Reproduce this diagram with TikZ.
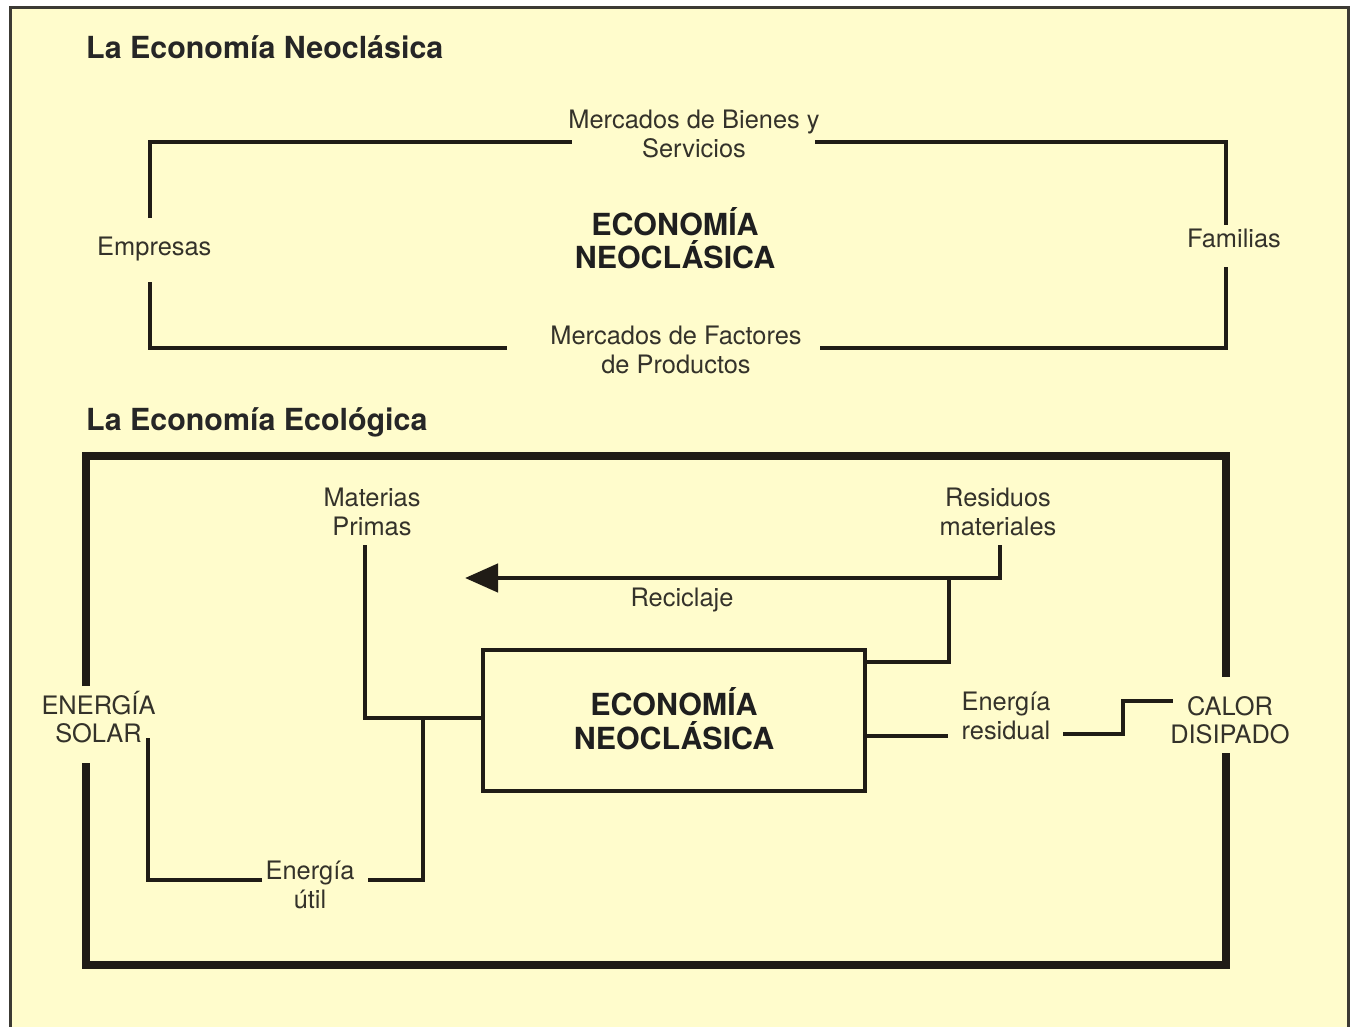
\documentclass[tikz,border=0pt]{standalone}
\usepackage{fontspec}
\setmainfont{TeX Gyre Heros}
\usetikzlibrary{arrows.meta}
\definecolor{bgyellow}{RGB}{255,252,204}
\definecolor{inkc}{RGB}{32,28,22}
\definecolor{txtc}{RGB}{52,50,42}
\definecolor{borderc}{RGB}{60,58,52}
\begin{document}
\begin{tikzpicture}[x=1pt,y=-1pt,
  lbl/.style={font=\fontsize{25.4}{28.5}\selectfont, text=txtc, inner sep=0pt, align=center},
  bigl/.style={font=\fontsize{30.4}{33.5}\selectfont\bfseries, text=black!88, inner sep=0pt, align=center},
  ttl/.style={font=\fontsize{30.4}{33.5}\selectfont\bfseries, text=black!85, inner sep=0pt},
  wire/.style={line width=4pt, draw=inkc, line join=miter},
  wirem/.style={line width=4.5pt, draw=inkc, line join=miter},
  frameline/.style={line width=8pt, draw=inkc, line join=miter},
  outerb/.style={line width=3pt, draw=borderc}]
\useasboundingbox (0,0) rectangle (1351,1027);
\fill[white] (0,0) rectangle (1351,1027);
\fill[bgyellow] (10,8) rectangle (1348,1030);
\coordinate (ob1) at (10,1030);
\coordinate (ob2) at (10,8);
\coordinate (ob3) at (1348,8);
\coordinate (ob4) at (1348,1030);
\draw[outerb] (ob1) -- (ob2) -- (ob3) -- (ob4);

% ---------- titles ----------
\node[ttl, anchor=base west] (t1) at (86,59) {La Economía Neoclásica};
\node[ttl, anchor=base west] (t2) at (86,430) {La Economía Ecológica};

% ---------- top diagram ----------
\node[lbl] (bienes) at (694,134) {Mercados de Bienes y\\Servicios};
\node[lbl] (factores) at (676,350) {Mercados de Factores\\de Productos};
\node[bigl] (eneo1) at (675,238) {ECONOMÍA\\NEOCLÁSICA};
\node[lbl, anchor=base west] (empresas) at (97,255) {Empresas};
\node[lbl, anchor=base west] (familias) at (1187,247) {Familias};

\coordinate (TL) at (150,142);
\coordinate (TR) at (1226,142);
\coordinate (BR) at (1226,348);
\coordinate (BL) at (150,348);
\coordinate (e1) at (150,218);
\coordinate (e2) at (150,282);
\coordinate (b1) at (572,142);
\coordinate (b2) at (815,142);
\coordinate (f1) at (1226,225);
\coordinate (f2) at (1226,267);
\coordinate (m1) at (820,348);
\coordinate (m2) at (507,348);
\draw[wire] (e1) -- (TL) -- (b1);
\draw[wire] (b2) -- (TR) -- (f1);
\draw[wire] (f2) -- (BR) -- (m1);
\draw[wire] (m2) -- (BL) -- (e2);

% ---------- bottom diagram ----------
\coordinate (FTL) at (86,456);
\coordinate (FTR) at (1226,456);
\coordinate (FBR) at (1226,965);
\coordinate (FBL) at (86,965);
\coordinate (s1) at (86,686);
\coordinate (s2) at (86,763);
\coordinate (c1) at (1226,677);
\coordinate (c2) at (1226,753);
\draw[frameline] (s1) -- (FTL) -- (FTR) -- (c1);
\draw[frameline] (c2) -- (FBR) -- (FBL) -- (s2);

\node[wirem, rectangle, minimum width=382pt, minimum height=141pt, bigl, text depth=4pt] (box) at (674,720.5) {ECONOMÍA\\NEOCLÁSICA};

\node[lbl] (materias) at (372,512) {Materias\\Primas};
\node[lbl] (residuos) at (998,512) {Residuos\\materiales};
\node[lbl, anchor=base] (reciclaje) at (682,606) {Reciclaje};
\node[lbl] (solar) at (98.5,717) {ENERGÍA\\SOLAR};
\node[lbl] (util) at (310,885) {Energía\\útil};
\node[lbl] (residual) at (1006,716) {Energía\\residual};
\node[lbl] (calor) at (1230,720) {CALOR\\DISIPADO};

% materias primas feed
\coordinate (mp1) at (365,545);
\coordinate (mp2) at (365,718);
\coordinate (mpj) at (423,718);
\draw[wirem] (mp1) -- (mp2) -- (box.west |- mp2);
\coordinate (eu1) at (423,880);
\coordinate (eu2) at (368,880);
\draw[wirem] (mpj) -- (eu1) -- (eu2);
\coordinate (eu3) at (262,880);
\coordinate (eu4) at (148,880);
\coordinate (eu5) at (148,738);
\draw[wirem] (eu3) -- (eu4) -- (eu5);

% residuos / reciclaje
\coordinate (r1) at (1000,545);
\coordinate (r2) at (1000,578);
\coordinate (rtip) at (465,578);
\draw[wirem, -{Triangle[length=33pt,width=28pt]}] (r1) -- (r2) -- (rtip);
\coordinate (rj) at (949,578);
\coordinate (rb) at (949,662);
\draw[wirem] (rj) -- (rb) -- (box.east |- rb);

% energia residual / calor
\coordinate (er1) at (948,736);
\draw[wirem] (box.east |- er1) -- (er1);
\coordinate (cd1) at (1063,734);
\coordinate (cd2) at (1123,734);
\coordinate (cd3) at (1123,701);
\coordinate (cd4) at (1173,701);
\draw[wirem] (cd1) -- (cd2) -- (cd3) -- (cd4);
\end{tikzpicture}
\end{document}
